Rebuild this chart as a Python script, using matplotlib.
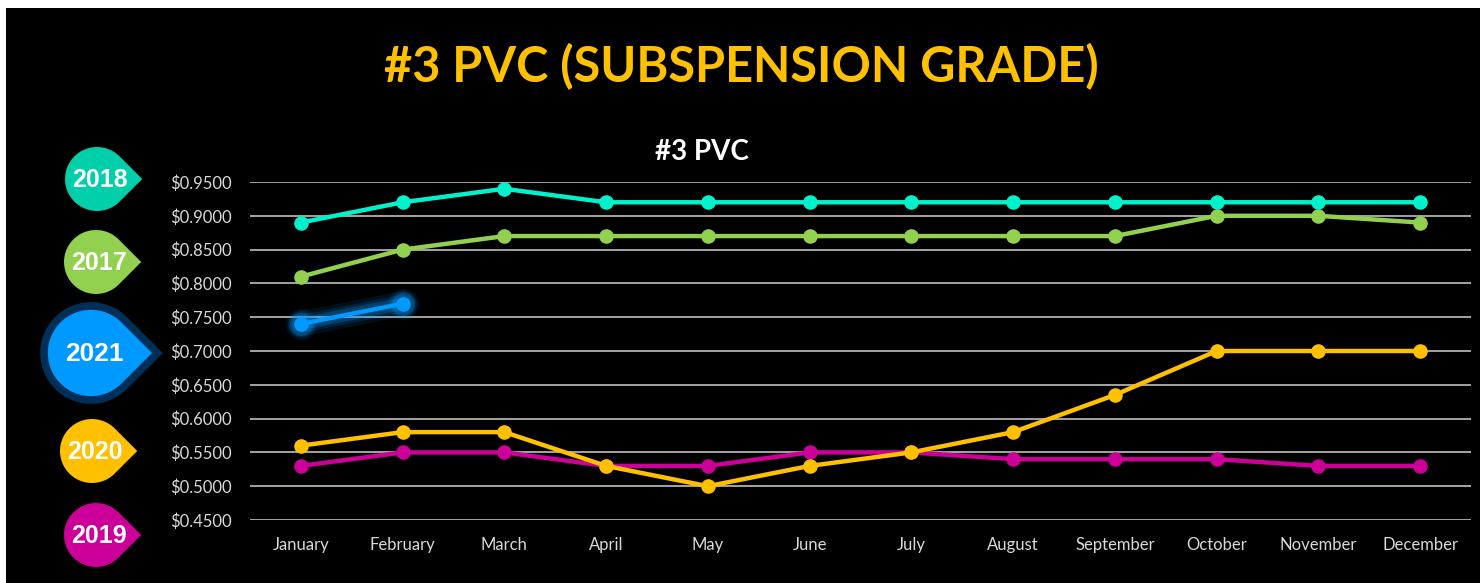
import numpy as np
import matplotlib
matplotlib.use("Agg")
import matplotlib.pyplot as plt
from matplotlib.path import Path
from matplotlib.patches import PathPatch, Rectangle

#Data
months = ["January", "February", "March", "April", "May", "June",
          "July", "August", "September", "October", "November", "December"]
y2018 = [0.89, 0.92, 0.94, 0.92, 0.92, 0.92, 0.92, 0.92, 0.92, 0.92, 0.92, 0.92]
y2017 = [0.81, 0.85, 0.87, 0.87, 0.87, 0.87, 0.87, 0.87, 0.87, 0.90, 0.90, 0.89]
y2021 = [0.74, 0.77]
y2020 = [0.56, 0.58, 0.58, 0.53, 0.50, 0.53, 0.55, 0.58, 0.635, 0.70, 0.70, 0.70]
y2019 = [0.53, 0.55, 0.55, 0.53, 0.53, 0.55, 0.55, 0.54, 0.54, 0.54, 0.53, 0.53]
yticks = [0.45, 0.50, 0.55, 0.60, 0.65, 0.70, 0.75, 0.80, 0.85, 0.90, 0.95]

#Colours
c2018 = "#00F2CC"
c2017 = "#92D050"
c2021 = "#0099FF"
c2020 = "#FFC000"
c2019 = "#CC0099"

W, H = 1480, 583
fig = plt.figure(figsize=(W / 100, H / 100), dpi=100, facecolor="white")

#Background layer in pixel coordinates (black panel + badges)
bg = fig.add_axes([0, 0, 1, 1], zorder=0)
bg.set_xlim(0, W)
bg.set_ylim(H, 0)
bg.axis("off")
bg.add_patch(Rectangle((6, 8), W - 6, H - 8, facecolor="black", edgecolor="none"))


def teardrop(cx, cy, r):
    '''Circle with a sharp tip pointing right (rounded square rotated 45 deg)'''
    ang = np.linspace(np.pi / 4, 2 * np.pi - np.pi / 4, 60)
    pts = [(cx + r * np.cos(a), cy - r * np.sin(a)) for a in ang]
    pts.append((cx + r * np.sqrt(2), cy))
    pts.append(pts[0])
    codes = [Path.MOVETO] + [Path.LINETO] * (len(pts) - 2) + [Path.CLOSEPOLY]
    return Path(pts, codes)


badges = [("2018", 97, 179, 32, "#00CFAA", None, 18),
          ("2017", 96, 262, 32, c2017, None, 18),
          ("2021", 91, 353, 47, c2021, "#003057", 19),
          ("2020", 92, 451, 32, c2020, None, 18),
          ("2019", 96, 535, 32, c2019, None, 18)]
for label, cx, cy, r, fc, ec, fs in badges:
    if ec is not None:
        patch = PathPatch(teardrop(cx, cy, r), facecolor=fc, edgecolor=ec,
                          linewidth=5.5, joinstyle="miter")
    else:
        patch = PathPatch(teardrop(cx, cy, r), facecolor=fc, edgecolor="none")
    bg.add_patch(patch)
    bg.text(cx + 3, cy + 1, label, color="white", fontsize=fs, fontweight="bold",
            family="Liberation Sans", ha="center", va="center")

#Titles
bg.text(741, 67, "#3 PVC (SUBSPENSION GRADE)", color="#FFC000", fontsize=35,
        fontweight="bold", family="Lato", ha="center", va="center")
bg.text(702, 152, "#3 PVC", color="white", fontsize=20, fontweight="bold",
        family="Lato", ha="center", va="center")

#Main chart
left, right = 250 / W, 1471 / W
bottom, top = (H - 520) / H, (H - 182) / H
ax = fig.add_axes([left, bottom, right - left, top - bottom], zorder=1)
ax.set_facecolor("none")

x = np.arange(len(months))
lw = 3.2
ms = 10.5

#glow for 2021
for gw, ga in [(18, 0.1), (13, 0.15), (9, 0.25)]:
    ax.plot(x[:len(y2021)], y2021, color=c2021, lw=gw, alpha=ga,
            solid_capstyle="round", zorder=2)
    ax.plot(x[:len(y2021)], y2021, "o", color=c2021, ms=ms + gw / 1.5, alpha=ga,
            markeredgewidth=0, zorder=2)

series = [(y2019, c2019), (y2020, c2020), (y2017, c2017), (y2018, c2018), (y2021, c2021)]
for vals, col in series:
    ax.plot(x[:len(vals)], vals, color=col, lw=lw, marker="o", ms=ms,
            markeredgewidth=0, zorder=3)

ax.set_xlim(-0.5, len(months) - 0.5)
ax.set_ylim(0.45, 0.95)
ax.set_yticks(yticks)
ax.set_yticklabels(["${:.4f}".format(v) for v in yticks])
ax.set_xticks(x)
ax.set_xticklabels(months)
ax.yaxis.grid(True, color="#BFBFBF", linewidth=1.2)
ax.set_axisbelow(True)
ax.tick_params(axis="both", length=0, colors="#D9D9D9", labelsize=12)
ax.tick_params(axis="y", pad=13)
ax.tick_params(axis="x", pad=12)
for lab in ax.get_xticklabels() + ax.get_yticklabels():
    lab.set_family("Lato")
for s in ax.spines.values():
    s.set_visible(False)
for line in ax.lines:
    line.set_clip_on(False)

fig.savefig("out.png", dpi=100, facecolor=fig.get_facecolor())
